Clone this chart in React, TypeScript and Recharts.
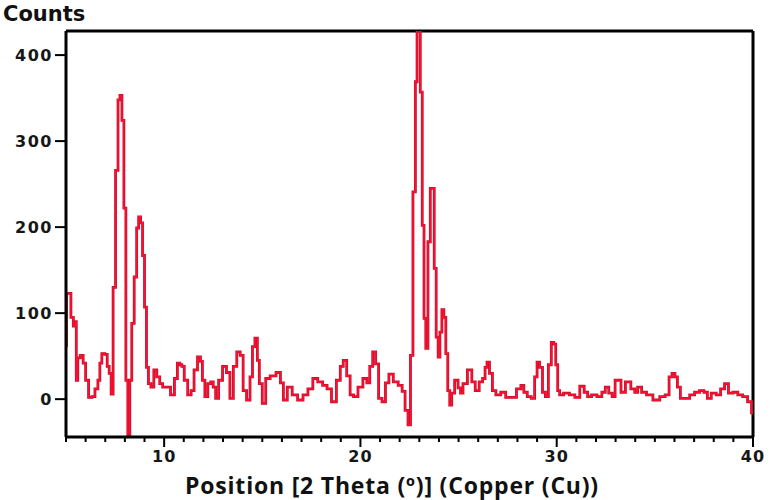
import React from "react";
import { LineChart, Line, XAxis, YAxis, ReferenceLine } from "recharts";

// 2-theta positions (deg) and counts
const positions = [
  5.0, 5.05, 5.2, 5.3, 5.45, 5.5, 5.55, 5.65, 5.8, 5.95, 6.05, 6.25, 6.4, 6.55, 6.7, 6.75, 6.9, 7.05, 7.15,
  7.25, 7.35, 7.45, 7.6, 7.7, 7.8, 7.9, 8.0, 8.1, 8.2, 8.3, 8.4, 8.55, 8.65, 8.75, 8.85, 8.95, 9.05, 9.15,
  9.25, 9.4, 9.55, 9.7, 9.85, 10.0, 10.2, 10.45, 10.6, 10.75, 10.85, 10.95, 11.1, 11.3, 11.45, 11.6, 11.8,
  11.9, 12.0, 12.15, 12.3, 12.45, 12.55, 12.7, 12.85, 13.1, 13.25, 13.45, 13.6, 13.8, 13.95, 14.1, 14.3,
  14.45, 14.55, 14.7, 14.8, 14.9, 15.1, 15.25, 15.55, 15.85, 16.0, 16.15, 16.4, 16.65, 16.95, 17.2, 17.45,
  17.7, 17.95, 18.2, 18.4, 18.65, 18.9, 19.05, 19.2, 19.4, 19.55, 19.75, 20.0, 20.25, 20.4, 20.55, 20.7,
  20.85, 21.0, 21.2, 21.35, 21.55, 21.8, 22.05, 22.2, 22.35, 22.5, 22.6, 22.75, 22.85, 22.92, 23.0, 23.1,
  23.2, 23.28, 23.38, 23.5, 23.62, 23.72, 23.8, 23.92, 24.0, 24.1, 24.2, 24.3, 24.4, 24.5, 24.6, 24.7, 24.9,
  25.05, 25.15, 25.3, 25.6, 25.75, 25.95, 26.15, 26.3, 26.4, 26.5, 26.65, 26.8, 27.0, 27.3, 27.5, 27.8,
  28.1, 28.25, 28.4, 28.6, 28.8, 28.95, 29.05, 29.2, 29.35, 29.5, 29.65, 29.8, 29.9, 30.0, 30.1, 30.2, 30.5,
  30.8, 31.05, 31.3, 31.5, 31.65, 31.9, 32.2, 32.4, 32.55, 32.75, 32.9, 33.05, 33.2, 33.35, 33.65, 33.9,
  34.05, 34.2, 34.45, 34.7, 35.1, 35.4, 35.65, 35.8, 35.95, 36.1, 36.2, 36.4, 36.65, 36.9, 37.15, 37.4,
  37.6, 37.75, 38.0, 38.25, 38.45, 38.65, 38.85, 39.1, 39.35, 39.6, 39.85, 40.0,
];

const counts = [
  62, 123, 123, 95, 85, 90, 22, 48, 51, 42, 22, 2, 3, 12, 22, 42, 53, 52, 38,
  30, 6, 130, 266, 348, 353, 324, 222, 22, -46, 22, 88, 142, 199, 212, 205, 167, 107, 37,
  18, 14, 34, 26, 18, 14, 14, 5, 24, 42, 40, 38, 22, 5, 10, 34, 49,
  44, 22, 3, 18, 20, 14, 1, 22, 38, 31, 1, 38, 55, 51, 10, -1,
  26, 61, 71, 45, 18, -5, 24, 27, 31, 19, -1, 14, 5, -1, 5, 12,
  24, 20, 16, 12, -3, 22, 38, 45, 27, 5, 3, 14, 24, 19, 38, 55,
  41, 1, -3, 19, 29, 20, 16, 9, -13, -30, 51, 241, 369, 440, 440, 357,
  202, 94, 59, 183, 245, 245, 152, 72, 49, 78, 104, 95, 53, 10, -7, 7, 22,
  13, 7, 18, 34, 20, 10, 20, 24, 37, 43, 30, 10, 5, 8, 2, 2,
  12, 16, 8, 3, 1, 26, 43, 37, 8, 3, 40, 66, 64, 40, 10, 5, 7,
  5, 2, 15, 8, 3, 5, 3, 8, 14, 7, 3, 22, 22, 8, 20, 12,
  8, 14, 8, 5, -1, 3, 5, 26, 30, 26, 14, 1, 1, 5, 8, 10,
  8, 1, 7, 5, 12, 18, 7, 8, 5, 3, -3, -16,
];

const xTicks = Array.from({ length: 36 }, (_, i) => 5 + i);
const yTicks = [0, 100, 200, 300, 400];

const data = positions.map((pos, i) => ({ pos, counts: counts[i] }));

const tickFont = { fontFamily: "DejaVu Sans", fontWeight: 700, fontSize: 16, fill: "#161616" };

const XTick = (props: any) => {
  const { x, y, payload } = props;
  const major = payload.value % 10 === 0;
  return (
    <g>
      <line x1={x} x2={x} y1={y} y2={y + (major ? 10 : 5)} stroke="#000" strokeWidth={2} />
      {major && (
        <text x={x} y={y + 25} textAnchor="middle" {...tickFont} letterSpacing={1}>
          {payload.value}
        </text>
      )}
    </g>
  );
};

const YTick = (props: any) => {
  const { x, y, payload } = props;
  return (
    <g>
      <line x1={x - 11} x2={x} y1={y} y2={y} stroke="#000" strokeWidth={2} />
      <text x={x - 13} y={y + 6} textAnchor="end" {...tickFont} letterSpacing={1.5}>
        {payload.value}
      </text>
    </g>
  );
};

export default function App() {
  return (
    <div style={{ position: "absolute", left: 0, top: 0, background: "#fff" }}>
      <LineChart width={771} height={500} data={data} margin={{ top: 31, right: 18, bottom: 0, left: 0 }}>
        <XAxis
          type="number"
          dataKey="pos"
          domain={[5, 40]}
          ticks={xTicks}
          interval={0}
          height={63}
          tickSize={0}
          tickMargin={0}
          tickLine={false}
          tick={<XTick />}
          axisLine={{ stroke: "#000", strokeWidth: 3 }}
          label={{
            content: () => (
              <text
                x={392}
                y={494}
                textAnchor="middle"
                fontFamily="Open Sans"
                fontWeight={700}
                fontSize={23}
                letterSpacing={0.8}
                fill="#111"
              >
                Position [2 Theta (º)] (Copper (Cu))
              </text>
            ),
          }}
        />
        <YAxis
          type="number"
          domain={[-44, 428]}
          allowDataOverflow
          ticks={yTicks}
          interval={0}
          width={66}
          tickSize={0}
          tickMargin={0}
          tickLine={false}
          tick={<YTick />}
          axisLine={{ stroke: "#000", strokeWidth: 3 }}
          label={{
            content: () => (
              <text x={3} y={21} fontFamily="DejaVu Sans" fontWeight={700} fontSize={21} fill="#111">
                Counts
              </text>
            ),
          }}
        />
        <ReferenceLine y={428} stroke="#000" strokeWidth={3} />
        <ReferenceLine x={40} stroke="#000" strokeWidth={3} />
        <Line
          type="step"
          dataKey="counts"
          stroke="#c4102e"
          strokeWidth={2.8}
          dot={false}
          isAnimationActive={false}
        />
        <Line
          type="step"
          dataKey="counts"
          stroke="#ff1030"
          strokeWidth={1.4}
          dot={false}
          isAnimationActive={false}
        />
      </LineChart>
    </div>
  );
}
